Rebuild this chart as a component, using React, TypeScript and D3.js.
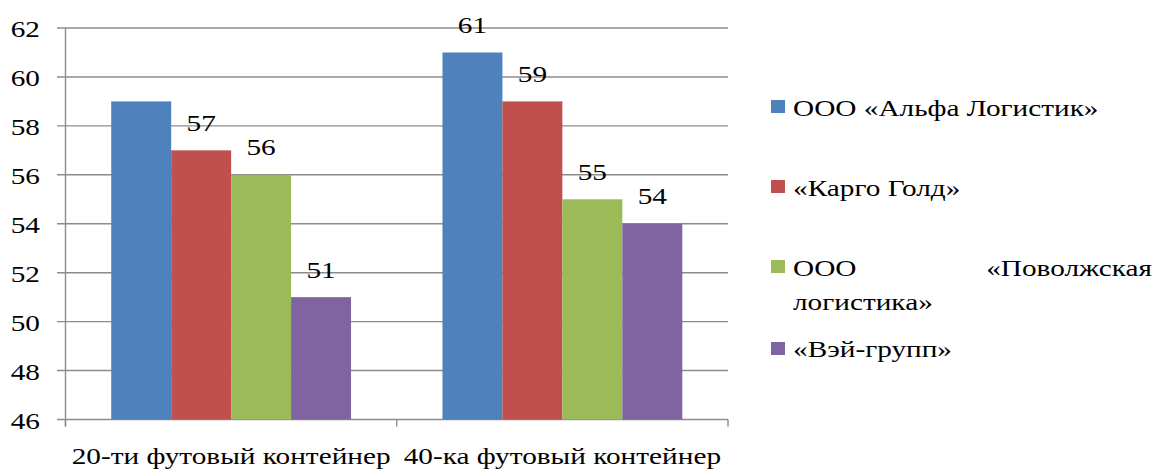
import React from "react";
import * as d3 from "d3";

const categories = ["20-ти футовый контейнер", "40-ка футовый контейнер"];
const seriesNames = ["ООО «Альфа Логистик»", "«Карго Голд»", "ООО «Поволжская логистика»", "«Вэй-групп»"];
const seriesColors = ["#4F81BD", "#C0504D", "#9BBB59", "#8064A2"];
const alfa = [59, 61];
const kargo = [57, 59];
const povolzh = [56, 55];
const vey = [51, 54];
const seriesValues = [alfa, kargo, povolzh, vey];
// whether a data label is shown, per series per category
const labelShown = [
  [false, true],
  [true, true],
  [true, true],
  [true, true],
];
const yTicks = [46, 48, 50, 52, 54, 56, 58, 60, 62];

const W = 1153;
const H = 470;
const FONT = "Liberation Serif";
const FS = 24;
const SX = 1.22;

function T({ x, y, anchor = "start", children, fs = FS }: any) {
  return (
    <text
      transform={`translate(${x},${y}) scale(${SX},1)`}
      textAnchor={anchor}
      fontFamily={FONT}
      fontSize={fs}
      fill="#000"
    >
      {children}
    </text>
  );
}

export default function App() {
  const left = 65.5;
  const right = 728;
  const top = 28;
  const bottom = 419.5;
  const x0 = d3.scaleBand<string>().domain(categories).range([left, right]).paddingInner(0).paddingOuter(0);
  const x1 = d3
    .scaleBand<number>()
    .domain(d3.range(seriesNames.length))
    .range([0, x0.bandwidth()])
    .paddingInner(0)
    .paddingOuter(0.7625);
  const y = d3.scaleLinear().domain([46, 62]).range([bottom, top]);
  const grid = "#8C8C8C";

  return (
    <svg width={W} height={H} style={{ position: "absolute", left: 0, top: 0, background: "#fff" }}>
      {yTicks.map((t) => (
        <line key={t} x1={57} x2={right} y1={y(t)} y2={y(t)} stroke={grid} strokeWidth={1.4} />
      ))}
      <line x1={left} x2={left} y1={top} y2={bottom + 7} stroke={grid} strokeWidth={1.4} />
      {[left, x0(categories[1])!, right].map((xx, i) => (
        <line key={i} x1={xx} x2={xx} y1={bottom} y2={bottom + 7} stroke={grid} strokeWidth={1.4} />
      ))}
      {seriesValues.map((vals, s) =>
        vals.map((v, c) => {
          const bx = x0(categories[c])! + x1(s)!;
          return (
            <rect key={`${s}-${c}`} x={bx} y={y(v)} width={x1.bandwidth()} height={bottom - y(v)} fill={seriesColors[s]} />
          );
        })
      )}
      {seriesValues.map((vals, s) =>
        vals.map((v, c) =>
          labelShown[s][c] ? (
            <T key={`l${s}-${c}`} x={x0(categories[c])! + x1(s)! + x1.bandwidth() / 2} y={y(v) - 19.5} anchor="middle">
              {v}
            </T>
          ) : null
        )
      )}
      {yTicks.map((t) => (
        <T key={`t${t}`} x={40} y={y(t) + 9} anchor="end">
          {t}
        </T>
      ))}
      {categories.map((c) => (
        <T key={c} x={x0(c)! + x0.bandwidth() / 2} y={464} anchor="middle">
          {c}
        </T>
      ))}
      {/* legend */}
      <rect x={771} y={100} width={14} height={13} fill={seriesColors[0]} />
      <T x={793} y={116}>{seriesNames[0]}</T>
      <rect x={771} y={180} width={14} height={13} fill={seriesColors[1]} />
      <T x={793} y={196}>{seriesNames[1]}</T>
      <rect x={771} y={260} width={14} height={13} fill={seriesColors[2]} />
      <T x={793} y={276}>ООО</T>
      <T x={1152} y={276} anchor="end">«Поволжская</T>
      <T x={793} y={310}>логистика»</T>
      <rect x={771} y={342} width={14} height={13} fill={seriesColors[3]} />
      <T x={793} y={357}>{seriesNames[3]}</T>
    </svg>
  );
}
